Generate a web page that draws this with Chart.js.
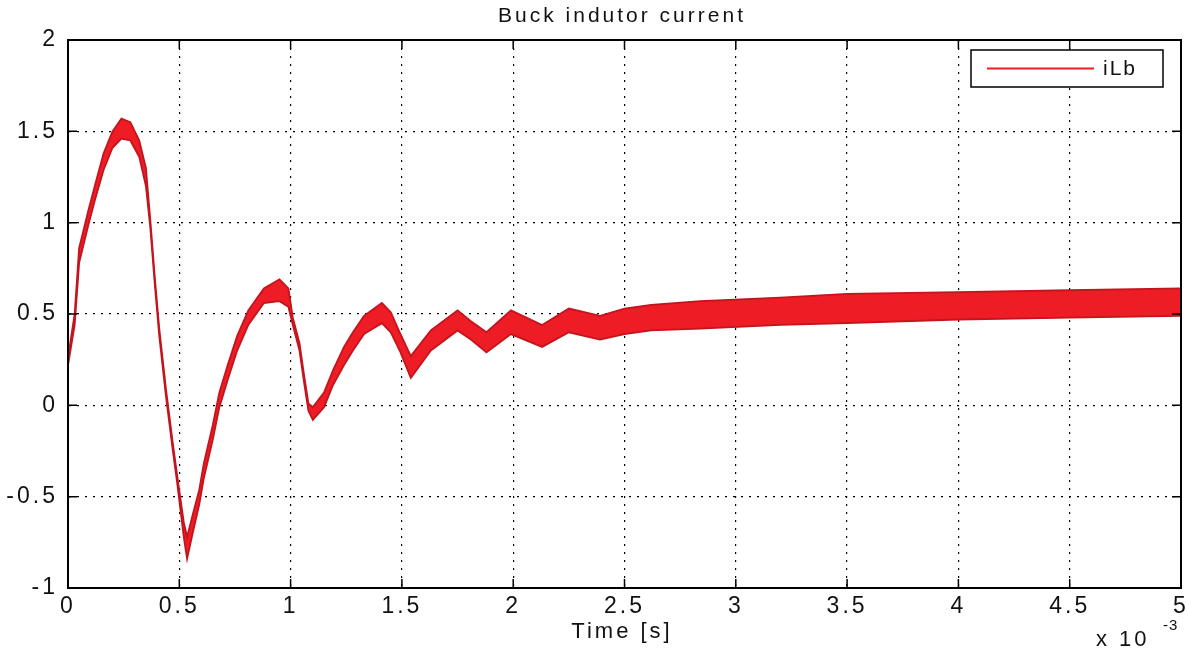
<!DOCTYPE html>
<html>
<head>
<meta charset="utf-8">
<title>Buck indutor current</title>
<script src="https://cdn.jsdelivr.net/npm/chart.js@4/dist/chart.umd.min.js"></script>
<style>
  html, body { margin: 0; padding: 0; background: #fff; }
  #wrap { width: 1187px; height: 654px; }
</style>
</head>
<body>
<div id="wrap"><canvas id="myChart" width="1187" height="654"></canvas></div>
<script>
'use strict';

// time in ms (axis shows x 10^-3 s)
var timeMs = [0, 0.03, 0.05, 0.09, 0.12, 0.16, 0.20, 0.24, 0.28, 0.32,
  0.35, 0.37, 0.39, 0.41, 0.44, 0.47, 0.49, 0.52, 0.535, 0.56,
  0.59, 0.61, 0.65, 0.68, 0.72, 0.76, 0.81, 0.88, 0.95, 0.99,
  1.01, 1.04, 1.06, 1.08, 1.10, 1.15, 1.19, 1.24, 1.28, 1.33,
  1.41, 1.45, 1.49, 1.54, 1.63, 1.75, 1.81, 1.88, 1.99, 2.13,
  2.25, 2.39, 2.5, 2.62, 2.84, 3.2, 3.5, 4.0, 4.5, 5.0];

// iLb ripple band: upper and lower edge
var iLbHigh = [0.26, 0.50, 0.86, 1.06, 1.20, 1.38, 1.50, 1.57, 1.55, 1.45,
  1.30, 1.01, 0.70, 0.42, 0.09, -0.20, -0.38, -0.64, -0.72, -0.60,
  -0.46, -0.32, -0.11, 0.07, 0.23, 0.38, 0.52, 0.64, 0.69, 0.64,
  0.48, 0.34, 0.17, 0.01, -0.01, 0.07, 0.19, 0.32, 0.40, 0.49,
  0.56, 0.51, 0.40, 0.27, 0.41, 0.52, 0.46, 0.40, 0.52, 0.44,
  0.53, 0.49, 0.53, 0.55, 0.57, 0.59, 0.61, 0.62, 0.63, 0.64];
var iLbLow = [0.22, 0.44, 0.78, 0.98, 1.12, 1.29, 1.41, 1.46, 1.45, 1.36,
  1.20, 0.97, 0.66, 0.38, 0.05, -0.24, -0.42, -0.72, -0.84, -0.70,
  -0.54, -0.40, -0.19, -0.01, 0.15, 0.30, 0.44, 0.56, 0.57, 0.54,
  0.44, 0.30, 0.13, -0.03, -0.08, -0.01, 0.11, 0.22, 0.30, 0.39,
  0.45, 0.40, 0.30, 0.15, 0.30, 0.41, 0.36, 0.29, 0.39, 0.32,
  0.40, 0.36, 0.39, 0.41, 0.42, 0.44, 0.45, 0.47, 0.48, 0.49];

var xTicks = [0, 0.5, 1, 1.5, 2, 2.5, 3, 3.5, 4, 4.5, 5];
var xTickLabels = ['0', '0.5', '1', '1.5', '2', '2.5', '3', '3.5', '4', '4.5', '5'];
var yTicks = [-1, -0.5, 0, 0.5, 1, 1.5, 2];
var yTickLabels = ['-1', '-0.5', '0', '0.5', '1', '1.5', '2'];

var lineColor = '#ee1c24';
var edgeColor = '#c4141e';
var fontFam = '"Liberation Sans", Arial, sans-serif';

function toPoints(ys) {
  return timeMs.map(function(t, i) { return {x: t, y: ys[i]}; });
}

// stretched look of the original lettering
var spacing = {
  id: 'spacing',
  beforeLayout: function(chart) { chart.ctx.letterSpacing = '3px'; },
  beforeDraw: function(chart) { chart.ctx.letterSpacing = '3px'; }
};

// matlab style box, inward ticks, title, labels and legend
var matlabBits = {
  id: 'matlabBits',
  afterDraw: function(chart) {
    var ctx = chart.ctx;
    var a = chart.chartArea;
    var sx = chart.scales.x, sy = chart.scales.y;
    ctx.save();
    ctx.strokeStyle = '#000';
    ctx.lineWidth = 2;
    ctx.setLineDash([]);
    ctx.strokeRect(a.left, a.top, a.right - a.left, a.bottom - a.top);
    ctx.lineWidth = 1.5;
    var tl = 9;
    xTicks.forEach(function(v) {
      var px = sx.getPixelForValue(v);
      ctx.beginPath();
      ctx.moveTo(px, a.bottom); ctx.lineTo(px, a.bottom - tl);
      ctx.moveTo(px, a.top); ctx.lineTo(px, a.top + tl);
      ctx.stroke();
    });
    yTicks.forEach(function(v) {
      var py = sy.getPixelForValue(v);
      ctx.beginPath();
      ctx.moveTo(a.left, py); ctx.lineTo(a.left + tl, py);
      ctx.moveTo(a.right, py); ctx.lineTo(a.right - tl, py);
      ctx.stroke();
    });

    ctx.fillStyle = '#111';
    ctx.textAlign = 'center';
    ctx.textBaseline = 'middle';
    ctx.font = '21px ' + fontFam;
    ctx.fillText('Buck indutor current', 622, 16);
    ctx.font = '22px ' + fontFam;
    ctx.fillText('Time [s]', 622, 632);
    ctx.textAlign = 'left';
    ctx.fillText('x 10', 1096, 640);
    ctx.font = '15px ' + fontFam;
    ctx.letterSpacing = '1px';
    ctx.fillText('-3', 1163, 626);

    // legend box
    var lx = 971, ly = 50, lw = 192, lh = 37;
    ctx.fillStyle = '#fff';
    ctx.fillRect(lx, ly, lw, lh);
    ctx.strokeStyle = '#000';
    ctx.lineWidth = 1.5;
    ctx.strokeRect(lx, ly, lw, lh);
    ctx.strokeStyle = lineColor;
    ctx.lineWidth = 2;
    ctx.beginPath();
    ctx.moveTo(987, ly + lh / 2); ctx.lineTo(1094, ly + lh / 2);
    ctx.stroke();
    ctx.fillStyle = '#111';
    ctx.font = '21px ' + fontFam;
    ctx.letterSpacing = '2px';
    ctx.textAlign = 'left';
    ctx.fillText(chart.data.datasets[0].label, 1103, ly + lh / 2 + 1);
    ctx.restore();
  }
};

var ctx = document.getElementById('myChart');
var myChart = new Chart(ctx, {
  type: 'line',
  data: {
    datasets: [
      {
        label: 'iLb',
        data: toPoints(iLbHigh),
        borderColor: edgeColor,
        borderWidth: 1.8,
        pointRadius: 0,
        fill: false
      },
      {
        label: 'iLb low',
        data: toPoints(iLbLow),
        borderColor: edgeColor,
        backgroundColor: lineColor,
        borderWidth: 1.8,
        pointRadius: 0,
        fill: '-1'
      }
    ]
  },
  options: {
    responsive: false,
    animation: false,
    layout: { padding: { top: 40, right: 6, left: 0, bottom: 0 } },
    plugins: {
      legend: { display: false },
      title: { display: false },
      tooltip: { enabled: false }
    },
    scales: {
      x: {
        type: 'linear',
        min: 0,
        max: 5,
        afterFit: function(scale) {
          scale.height = 66;
          scale.paddingLeft = 0;
          scale.paddingRight = 0;
        },
        afterBuildTicks: function(scale) {
          scale.ticks = xTicks.map(function(v) { return {value: v}; });
        },
        ticks: {
          color: '#111',
          font: { family: fontFam, size: 23 },
          padding: 5,
          maxRotation: 0,
          autoSkip: false,
          callback: function(v) { return xTickLabels[xTicks.indexOf(v)]; }
        },
        grid: { color: '#000', lineWidth: 1.2, drawTicks: false },
        border: { display: true, color: '#000', width: 2, dash: [2, 6] }
      },
      y: {
        type: 'linear',
        min: -1,
        max: 2,
        afterFit: function(scale) { scale.width = 68; },
        afterBuildTicks: function(scale) {
          scale.ticks = yTicks.map(function(v) { return {value: v}; });
        },
        ticks: {
          color: '#111',
          font: { family: fontFam, size: 23 },
          padding: 10,
          autoSkip: false,
          callback: function(v) { return yTickLabels[yTicks.indexOf(v)]; }
        },
        grid: { color: '#000', lineWidth: 1.2, drawTicks: false },
        border: { display: true, color: '#000', width: 2, dash: [2, 6] }
      }
    }
  },
  plugins: [spacing, matlabBits]
});
</script>
</body>
</html>
